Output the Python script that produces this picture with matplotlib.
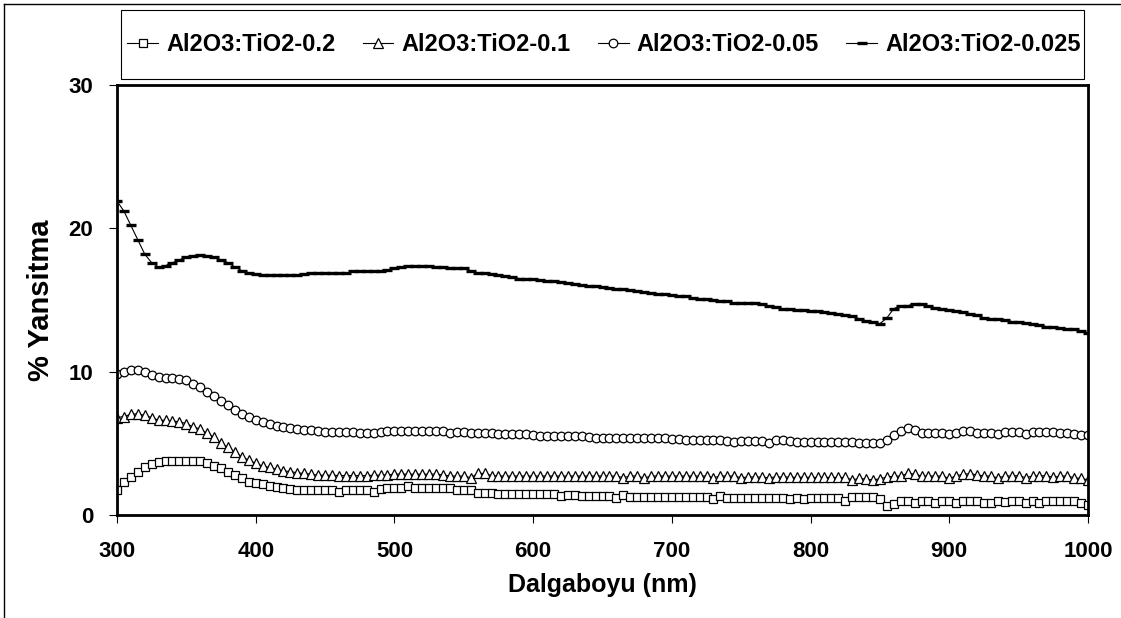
import numpy as np
import matplotlib
matplotlib.use("Agg")
import matplotlib.pyplot as plt
from matplotlib.lines import Line2D
from matplotlib.patches import Rectangle

# Wavelength grid (nm), 5 nm steps from 300 to 1000
wavelength = np.arange(300, 1001, 5)

# % reflectance for each Al2O3:TiO2 sample
refl_02 = [
    1.74, 2.32, 2.67, 3.02, 3.32, 3.53, 3.69, 3.76, 3.76, 3.76, 3.76, 3.76, 3.76, 3.64, 3.41, 3.25, 3.02, 2.78, 2.55, 2.32,
    2.20, 2.13, 2.02, 1.97, 1.90, 1.80, 1.76, 1.74, 1.74, 1.74, 1.74, 1.74, 1.60, 1.74, 1.74, 1.74, 1.74, 1.60, 1.80, 1.86,
    1.86, 1.86, 2.00, 1.90, 1.90, 1.90, 1.90, 1.90, 1.90, 1.74, 1.74, 1.74, 1.55, 1.55, 1.55, 1.50, 1.46, 1.46, 1.46, 1.46,
    1.46, 1.46, 1.46, 1.46, 1.35, 1.40, 1.40, 1.32, 1.32, 1.32, 1.32, 1.32, 1.20, 1.40, 1.28, 1.28, 1.28, 1.28, 1.28, 1.28,
    1.28, 1.28, 1.28, 1.28, 1.28, 1.28, 1.15, 1.32, 1.20, 1.20, 1.16, 1.16, 1.16, 1.16, 1.16, 1.16, 1.16, 1.10, 1.20, 1.12,
    1.20, 1.20, 1.20, 1.20, 1.20, 1.00, 1.28, 1.28, 1.28, 1.28, 1.10, 0.63, 0.75, 1.00, 1.00, 0.85, 1.00, 1.00, 0.85, 1.00,
    1.00, 0.85, 1.00, 1.00, 1.00, 0.85, 0.85, 1.00, 0.90, 1.00, 1.00, 0.85, 1.00, 0.85, 1.00, 1.00, 1.00, 1.00, 0.95, 0.85,
    0.70,
]

refl_01 = [
    6.80, 6.87, 7.03, 7.06, 6.95, 6.80, 6.61, 6.61, 6.56, 6.50, 6.38, 6.14, 6.00, 5.69, 5.41, 5.03, 4.71, 4.40, 4.06, 3.83,
    3.60, 3.41, 3.32, 3.18, 3.08, 3.03, 2.94, 2.90, 2.85, 2.78, 2.78, 2.78, 2.75, 2.75, 2.75, 2.75, 2.75, 2.78, 2.78, 2.80,
    2.85, 2.85, 2.85, 2.85, 2.85, 2.85, 2.85, 2.80, 2.72, 2.72, 2.72, 2.60, 2.90, 2.90, 2.75, 2.72, 2.72, 2.72, 2.72, 2.72,
    2.72, 2.72, 2.72, 2.72, 2.72, 2.72, 2.72, 2.72, 2.72, 2.72, 2.72, 2.72, 2.72, 2.60, 2.72, 2.72, 2.58, 2.72, 2.72, 2.72,
    2.72, 2.72, 2.72, 2.72, 2.72, 2.72, 2.60, 2.72, 2.72, 2.72, 2.60, 2.65, 2.65, 2.65, 2.60, 2.65, 2.65, 2.65, 2.62, 2.65,
    2.62, 2.62, 2.62, 2.62, 2.62, 2.62, 2.45, 2.55, 2.50, 2.45, 2.52, 2.65, 2.70, 2.72, 2.90, 2.85, 2.72, 2.72, 2.72, 2.72,
    2.55, 2.72, 2.85, 2.88, 2.80, 2.72, 2.72, 2.58, 2.72, 2.72, 2.75, 2.60, 2.72, 2.72, 2.75, 2.62, 2.72, 2.72, 2.60, 2.55,
    2.45,
]

refl_005 = [
    9.86, 10.00, 10.10, 10.10, 9.97, 9.74, 9.62, 9.58, 9.58, 9.51, 9.40, 9.16, 8.93, 8.58, 8.28, 7.95, 7.65, 7.35, 7.08, 6.84,
    6.66, 6.50, 6.33, 6.21, 6.14, 6.07, 6.03, 5.96, 5.92, 5.87, 5.80, 5.80, 5.80, 5.80, 5.80, 5.73, 5.73, 5.73, 5.78, 5.85,
    5.85, 5.87, 5.88, 5.88, 5.88, 5.87, 5.85, 5.85, 5.70, 5.78, 5.78, 5.73, 5.73, 5.73, 5.72, 5.65, 5.63, 5.62, 5.62, 5.62,
    5.58, 5.48, 5.52, 5.52, 5.50, 5.50, 5.50, 5.50, 5.45, 5.35, 5.40, 5.38, 5.38, 5.38, 5.38, 5.38, 5.38, 5.38, 5.38, 5.38,
    5.30, 5.30, 5.20, 5.25, 5.22, 5.22, 5.20, 5.20, 5.15, 5.10, 5.15, 5.17, 5.17, 5.17, 5.00, 5.20, 5.20, 5.18, 5.10, 5.10,
    5.10, 5.10, 5.10, 5.10, 5.10, 5.10, 5.10, 5.05, 5.00, 5.00, 5.05, 5.25, 5.60, 5.85, 6.05, 5.90, 5.75, 5.75, 5.75, 5.75,
    5.62, 5.72, 5.88, 5.85, 5.74, 5.74, 5.74, 5.62, 5.80, 5.80, 5.80, 5.65, 5.80, 5.80, 5.80, 5.78, 5.74, 5.74, 5.62, 5.57,
    5.55,
]

refl_0025 = [
    21.90, 21.20, 20.20, 19.20, 18.20, 17.60, 17.30, 17.40, 17.60, 17.80, 18.00, 18.10, 18.15, 18.10, 18.00, 17.80, 17.60, 17.30, 17.05, 16.90,
    16.82, 16.77, 16.77, 16.75, 16.75, 16.75, 16.77, 16.80, 16.85, 16.85, 16.85, 16.85, 16.87, 16.85, 17.00, 17.02, 17.03, 17.04, 17.05, 17.10,
    17.20, 17.30, 17.35, 17.40, 17.40, 17.38, 17.30, 17.28, 17.25, 17.22, 17.20, 17.05, 16.90, 16.85, 16.80, 16.72, 16.65, 16.60, 16.50, 16.50,
    16.45, 16.40, 16.35, 16.30, 16.25, 16.20, 16.15, 16.05, 16.00, 15.95, 15.90, 15.85, 15.80, 15.75, 15.70, 15.62, 15.55, 15.50, 15.45, 15.40,
    15.35, 15.30, 15.25, 15.15, 15.10, 15.05, 15.00, 14.95, 14.90, 14.80, 14.78, 14.77, 14.77, 14.70, 14.60, 14.50, 14.40, 14.38, 14.33, 14.30,
    14.25, 14.20, 14.17, 14.10, 14.05, 13.95, 13.85, 13.70, 13.55, 13.45, 13.35, 13.75, 14.40, 14.60, 14.60, 14.75, 14.70, 14.60, 14.45, 14.40,
    14.30, 14.25, 14.15, 14.05, 13.95, 13.75, 13.70, 13.65, 13.60, 13.50, 13.45, 13.40, 13.30, 13.25, 13.15, 13.10, 13.05, 13.00, 12.95, 12.85,
    12.70,
]

labels = ["Al2O3:TiO2-0.2", "Al2O3:TiO2-0.1", "Al2O3:TiO2-0.05", "Al2O3:TiO2-0.025"]
x_ticks = [300, 400, 500, 600, 700, 800, 900, 1000]
y_ticks = [0, 10, 20, 30]

plt.rcParams["font.family"] = ["Liberation Sans", "DejaVu Sans"]
plt.rcParams["font.weight"] = "bold"

W, H = 1121, 618
fig = plt.figure(figsize=(W / 100, H / 100), dpi=100)
fig.patch.set_facecolor("white")

# axes box in pixel terms
left, right, top, bottom = 117, 1088, 85, 515
ax = fig.add_axes([left / W, 1 - bottom / H, (right - left) / W, (bottom - top) / H])

series = [
    (refl_02, dict(marker="s", markersize=6.0, markerfacecolor="white", markeredgewidth=0.9)),
    (refl_01, dict(marker="^", markersize=6.6, markerfacecolor="white", markeredgewidth=0.9)),
    (refl_005, dict(marker="o", markersize=6.2, markerfacecolor="white", markeredgewidth=0.9)),
    (refl_0025, dict(marker="_", markersize=6.5, markeredgewidth=2.4)),
]
handles = []
for (vals, style), lab in zip(series, labels):
    (ln,) = ax.plot(wavelength, vals, color="black", linewidth=0.8,
                    markeredgecolor="black", label=lab, **style)
    handles.append(ln)

ax.set_xlim(300, 1000)
ax.set_ylim(0, 30)
ax.set_xticks(x_ticks)
ax.set_yticks(y_ticks)
ax.tick_params(axis="both", direction="out", length=6, width=0.8, color="black",
               labelsize=16)
ax.tick_params(axis="x", pad=13)
ax.tick_params(axis="y", pad=11)
for lab in ax.get_xticklabels() + ax.get_yticklabels():
    lab.set_fontweight("bold")
for sp in ax.spines.values():
    sp.set_linewidth(2.0)
    sp.set_color("black")

fig.text(602 / W, 1 - 585 / H, "Dalgaboyu (nm)", ha="center", va="center",
         fontsize=18, fontweight="bold")
fig.text(41 / W, 1 - 300 / H, "% Yansitma", ha="center", va="center",
         rotation=90, fontsize=21, fontweight="bold")

# legend box across the top
fig.add_artist(Rectangle((121 / W, 1 - 79 / H), 963 / W, 69 / H,
                         transform=fig.transFigure, facecolor="white",
                         edgecolor="black", linewidth=0.8))
leg = fig.legend(handles=handles, labels=labels, ncol=4,
                 loc="center", bbox_to_anchor=(604 / W, 1 - 44.5 / H),
                 frameon=False, fontsize=17, handlelength=1.3, handletextpad=0.35,
                 columnspacing=1.15, borderpad=0, borderaxespad=0)
for t in leg.get_texts():
    t.set_fontweight("bold")

# outer chart frame (top and left edges)
fig.add_artist(Line2D([4 / W, 4 / W], [0, 1 - 4 / H], transform=fig.transFigure,
                      color="black", linewidth=1.0))
fig.add_artist(Line2D([4 / W, 1], [1 - 4 / H, 1 - 4 / H], transform=fig.transFigure,
                      color="black", linewidth=1.0))

fig.savefig("out.png", dpi=100)
